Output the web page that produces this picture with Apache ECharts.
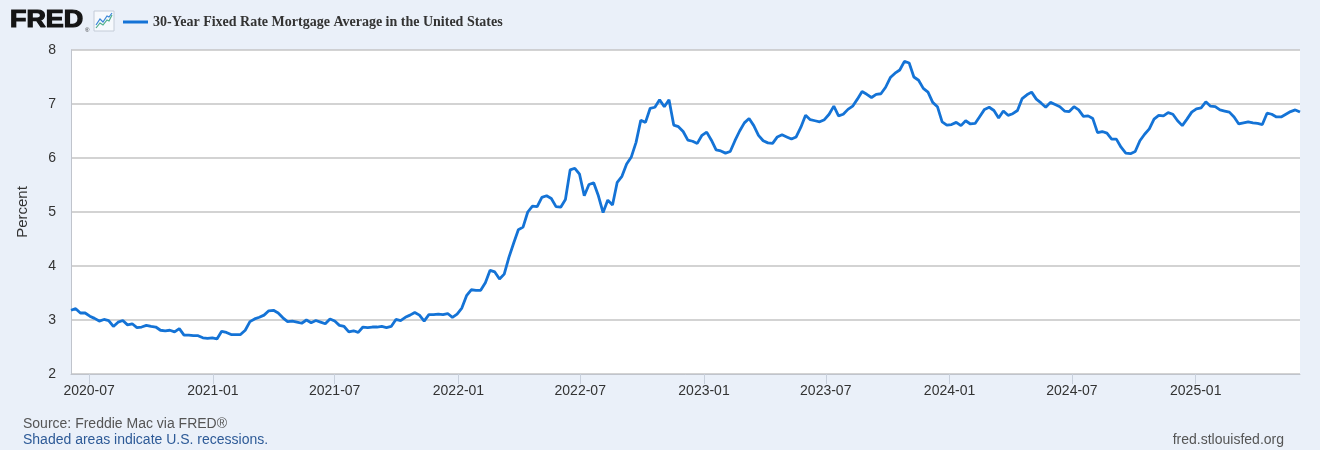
<!DOCTYPE html>
<html>
<head>
<meta charset="utf-8">
<script src="https://cdn.jsdelivr.net/npm/echarts@6/dist/echarts.min.js"></script>
<style>
html,body{margin:0;padding:0;background:#eaf0f9;}
#chart{width:1320px;height:450px;}
</style>
</head>
<body>
<div id="chart"></div>
<script>
// ---- data (weekly, Thursdays, starting 2020-06-04) ----
const seriesName = '30-Year Fixed Rate Mortgage Average in the United States';
const startDate = [2020, 6, 4];
const rate2020 = [3.18,3.21,3.13,3.13,3.07,3.03,2.98,3.01,2.99,2.88,2.96,2.99,2.91,2.93,2.86,2.87,2.90,2.88,2.87,2.81,2.80,2.81,2.78,2.84,2.72,2.72,2.71,2.71,2.67,2.66,2.67];
const rate2021 = [2.65,2.79,2.77,2.73,2.73,2.73,2.81,2.97,3.02,3.05,3.09,3.17,3.18,3.13,3.04,2.97,2.98,2.96,2.94,3.00,2.95,2.99,2.96,2.93,3.02,2.98,2.90,2.88,2.78,2.80,2.77,2.87,2.86,2.87,2.87,2.88,2.86,2.88,3.01,2.99,3.05,3.09,3.14,3.09,2.98,3.10,3.10,3.11,3.10,3.12,3.05,3.11];
const rate2022 = [3.22,3.45,3.56,3.55,3.55,3.69,3.92,3.89,3.76,3.85,4.16,4.42,4.67,4.72,5.00,5.11,5.10,5.27,5.30,5.25,5.10,5.09,5.23,5.78,5.81,5.70,5.30,5.51,5.54,5.30,4.99,5.22,5.13,5.55,5.66,5.89,6.02,6.29,6.70,6.66,6.92,6.94,7.08,6.95,7.08,6.61,6.58,6.49,6.33,6.31,6.27,6.42];
const rate2023 = [6.48,6.33,6.15,6.13,6.09,6.12,6.32,6.50,6.65,6.73,6.60,6.42,6.32,6.28,6.27,6.39,6.43,6.39,6.35,6.39,6.57,6.79,6.71,6.69,6.67,6.71,6.81,6.96,6.78,6.81,6.90,6.96,7.09,7.23,7.18,7.12,7.18,7.19,7.31,7.49,7.57,7.63,7.79,7.76,7.50,7.44,7.29,7.22,7.03,6.95,6.67,6.61];
const rate2024 = [6.62,6.66,6.60,6.69,6.63,6.64,6.77,6.90,6.94,6.88,6.74,6.87,6.79,6.82,6.88,7.10,7.17,7.22,7.09,7.02,6.94,7.03,6.99,6.95,6.87,6.86,6.95,6.89,6.77,6.78,6.73,6.47,6.49,6.46,6.35,6.35,6.20,6.09,6.08,6.12,6.32,6.44,6.54,6.72,6.79,6.78,6.84,6.81,6.69,6.60,6.72,6.85];
const rate2025 = [6.91,6.93,7.04,6.96,6.95,6.89,6.87,6.85,6.76,6.63,6.65,6.67,6.65,6.64,6.62,6.83,6.81,6.76,6.76,6.81,6.86,6.89,6.85];
const xTickLabels = ['2020-07','2021-01','2021-07','2022-01','2022-07','2023-01','2023-07','2024-01','2024-07','2025-01'];
const yTicks = [2,3,4,5,6,7,8];

// ---- build ----
const rates = [].concat(rate2020, rate2021, rate2022, rate2023, rate2024, rate2025);
const DAY = 86400000;
const t0 = Date.UTC(startDate[0], startDate[1]-1, startDate[2]);
const seriesData = rates.map((v, i) => [t0 + i*7*DAY, v]);
const xMin = seriesData[0][0];
const xMax = seriesData[seriesData.length-1][0];
const tickValues = xTickLabels.map(s => { const p = s.split('-'); return Date.UTC(+p[0], +p[1]-1, 1); });
function fmt(v){ const d = new Date(v); const m = d.getUTCMonth()+1; return d.getUTCFullYear() + '-' + (m<10?'0'+m:m); }

const chart = echarts.init(document.getElementById('chart'), null, {renderer:'canvas'});
const FONT = '"Liberation Sans", Arial, Helvetica, sans-serif';
chart.setOption({
  backgroundColor: '#eaf0f9',
  animation: false,
  grid: { left: 71, right: 20, top: 50, height: 324, backgroundColor: '#ffffff', show: true, borderWidth: 0 },
  legend: {
    left: 123, top: 15, padding: 0, icon: 'rect', itemWidth: 25, itemHeight: 3, itemGap: 5,
    textStyle: { fontFamily: '"Liberation Serif", "Times New Roman", serif', fontWeight: 'bold', fontSize: 14, color: '#333333' },
    data: [seriesName]
  },
  xAxis: {
    type: 'value', min: xMin, max: xMax, scale: true,
    axisLine: { show: true, lineStyle: { color: '#c0c4cc', width: 1 } },
    axisTick: { show: true, length: 10, lineStyle: { color: '#c8d0dc' }, customValues: tickValues },
    axisLabel: { customValues: tickValues, formatter: v => fmt(v), fontFamily: FONT, fontSize: 14, color: '#333333', margin: 10, hideOverlap: false, showMinLabel: true, showMaxLabel: true },
    splitLine: { show: false }
  },
  yAxis: {
    type: 'value', min: yTicks[0], max: yTicks[yTicks.length-1], interval: 1,
    name: 'Percent', nameLocation: 'middle', nameGap: 41, nameRotate: 90,
    nameTextStyle: { fontFamily: FONT, fontSize: 15, color: '#333333' },
    axisLine: { show: true, lineStyle: { color: '#c0c4cc' } },
    axisTick: { show: false },
    axisLabel: { fontFamily: FONT, fontSize: 14, color: '#333333', margin: 15, padding: [0,0,12,0] },
    splitLine: { show: true, lineStyle: { color: '#c4c4c4', width: 1.5 } }
  },
  series: [{
    name: seriesName, type: 'line', data: seriesData, showSymbol: false,
    lineStyle: { color: '#1473d6', width: 2.8 }, itemStyle: { color: '#1473d6' }
  }],
  graphic: [
    { type: 'text', x: 10, y: 0, scaleX: 1.12, originX: 0, style: { x: 0, y: 20, text: 'FRED', verticalAlign: 'middle', align: 'left', font: 'bold 24px ' + FONT, fill: '#151515', stroke: '#151515', lineWidth: 1.2 } },
    { type: 'text', style: { x: 85, y: 30, text: '®', verticalAlign: 'middle', font: '6px ' + FONT, fill: '#333' } },
    { type: 'rect', shape: { x: 94, y: 11, width: 20, height: 20 }, style: { fill: '#f6f9fd', stroke: '#c4ccd8', lineWidth: 1 } },
    { type: 'polyline', shape: { points: [[96,28],[100,23],[103,25],[107,20],[109,21],[112,15]] }, style: { stroke: '#4cae8a', fill: null, lineWidth: 1.2 } },
    { type: 'polyline', shape: { points: [[96,25],[100,19],[103,22],[107,16],[109,17],[112,13]] }, style: { stroke: '#3a86d6', fill: null, lineWidth: 1.2 } },
    { type: 'text', style: { x: 23, y: 424, verticalAlign: 'middle', text: 'Source: Freddie Mac via FRED®', font: '14px ' + FONT, fill: '#555555' } },
    { type: 'text', style: { x: 23, y: 440, verticalAlign: 'middle', text: 'Shaded areas indicate U.S. recessions.', font: '14px ' + FONT, fill: '#2d5a97' } },
    { type: 'text', style: { x: 1284, y: 440, verticalAlign: 'middle', align: 'right', text: 'fred.stlouisfed.org', font: '14px ' + FONT, fill: '#555555' } }
  ]
});
</script>
</body>
</html>
